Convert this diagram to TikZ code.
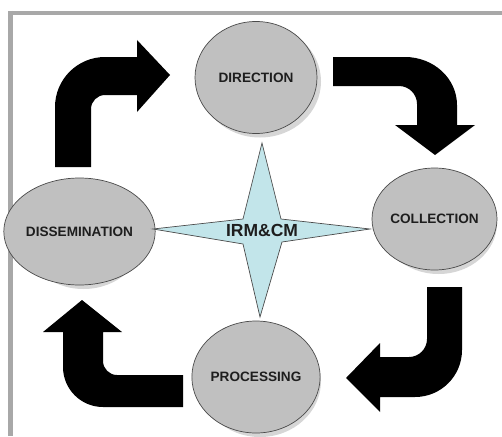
\documentclass[tikz,border=0pt]{standalone}
\usepackage{fontspec}
\setmainfont{Liberation Sans}
\usetikzlibrary{shapes.geometric}
\definecolor{framegray}{HTML}{A8A8A8}
\definecolor{phasegray}{HTML}{C0C0C0}
\definecolor{shadegray}{HTML}{D6D6D6}
\definecolor{edgegray}{HTML}{4A4A4A}
\definecolor{starfill}{HTML}{C2E5EA}
\definecolor{labelink}{HTML}{1E1E1E}
\begin{document}
\begin{tikzpicture}[x=1pt,y=-1pt,
  phase/.style={ellipse, draw=edgegray, line width=0.7pt, fill=phasegray,
    inner sep=0pt, font=\fontsize{13.6}{15}\selectfont\bfseries, text=labelink},
  phaseshade/.style={ellipse, fill=shadegray, inner sep=0pt},
  bentarrow/.style={fill=black},
  hub/.style={draw=edgegray, line width=0.7pt, fill=starfill, line join=miter}]
\useasboundingbox (0,0) rectangle (502,436);
\fill[white] (0,0) rectangle (502,436);

% grey frame (top and left edges)
\draw[framegray, line width=4pt] (10.5,13) -- (502,13);
\draw[framegray, line width=5pt] (10.5,11) -- (10.5,436);

% cycle phases with offset shadows
\node[phaseshade, minimum width=122pt, minimum height=112pt] (dirshade) at (260,81.5) {};
\node[phase, minimum width=122pt, minimum height=112pt] (dir) at (256,77.5) {DIRECTION};

\node[phaseshade, minimum width=117pt, minimum height=102pt] (colshade) at (438.5,223) {};
\node[phase, minimum width=117pt, minimum height=102pt] (col) at (434.5,219) {COLLECTION};

\node[phaseshade, minimum width=121pt, minimum height=107pt] (disshade) at (83.5,235.5) {};
\node[phase, minimum width=121pt, minimum height=107pt] (dis) at (79.5,231.5) {DISSEMINATION};

\node[phaseshade, minimum width=122pt, minimum height=112pt] (proshade) at (260,381) {};
\node[phase, minimum width=122pt, minimum height=112pt] (pro) at (256,377) {PROCESSING};

% four-pointed star in the middle
\path[hub] (262,143) -- (281,219) -- (370,229) -- (282,242) -- (260,317)
  -- (243,244) -- (153,229) -- (243,219) -- cycle;
\node[font=\fontsize{17.5}{19}\selectfont\bfseries, text=labelink] (core) at (262,230) {IRM\&CM};

% bent block arrows between the phases
% dissemination -> direction
\fill[bentarrow] (55,167) -- (55,107) .. controls (55,79.4) and (77.4,57) .. (105,57)
  -- (137,57) -- (137,40) -- (170,75) -- (137,112) -- (137,95) -- (105,95)
  .. controls (97.3,95) and (91,101.3) .. (91,109) -- (91,167) -- cycle;
% direction -> collection
\fill[bentarrow] (333,57) -- (405,57) .. controls (433.7,57) and (457,78.5) .. (457,105)
  -- (457,125) -- (475,125) -- (435,155) -- (395,125) -- (417,125) -- (417,104)
  .. controls (417,94.1) and (408.9,86) .. (399,86) -- (333,86) -- cycle;
% collection -> processing
\fill[bentarrow] (462,287) -- (462,350) .. controls (462,376) and (441,397) .. (415,397)
  -- (380,397) -- (380,412) -- (346,378) -- (380,343) -- (380,357) -- (409,357)
  .. controls (418.9,357) and (427,348.9) .. (427,339) -- (427,287) -- cycle;
% processing -> dissemination
\fill[bentarrow] (183,407) -- (103,407) .. controls (80.9,407) and (63,389.1) .. (63,367)
  -- (63,332) -- (43,332) -- (82,300) -- (122,332) -- (103,332) -- (103,361)
  .. controls (103,368.7) and (109.3,375) .. (117,375) -- (183,375) -- cycle;
\end{tikzpicture}
\end{document}
